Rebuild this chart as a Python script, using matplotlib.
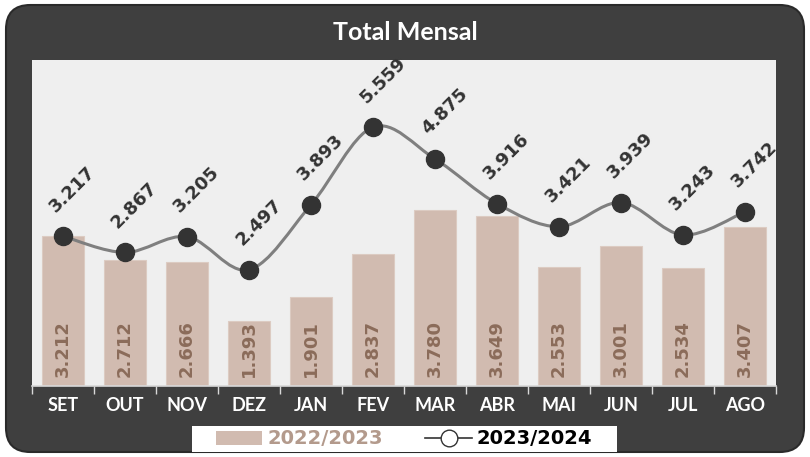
import matplotlib
matplotlib.use("Agg")
import matplotlib.pyplot as plt
import numpy as np
from matplotlib.patches import FancyBboxPatch, Rectangle, PathPatch
from matplotlib.path import Path
from matplotlib.lines import Line2D
from matplotlib.font_manager import FontProperties

months = ["SET", "OUT", "NOV", "DEZ", "JAN", "FEV", "MAR", "ABR", "MAI", "JUN", "JUL", "AGO"]
s2022 = [3212, 2712, 2666, 1393, 1901, 2837, 3780, 3649, 2553, 3001, 2534, 3407]
s2023 = [3217, 2867, 3205, 2497, 3893, 5559, 4875, 3916, 3421, 3939, 3243, 3742]
name_a = "2022/2023"
name_b = "2023/2024"
title = "Total Mensal"

def fmt(v):
    return f"{v:,}".replace(",", ".")

plt.rcParams['font.family'] = ['Lato', 'DejaVu Sans']
lab_font = ["DejaVu Sans"]

W, H = 810, 457
fig = plt.figure(figsize=(W/100, H/100), dpi=100)
fig.patch.set_facecolor("white")

dark = "#3f3f3f"
bg = FancyBboxPatch((6/W, 5/H), 798/W, 447/H, boxstyle="round,pad=0,rounding_size=0.03",
                    transform=fig.transFigure, facecolor=dark, edgecolor="#2a2a2a",
                    linewidth=1.5, zorder=-10, mutation_aspect=W/H)
fig.patches.append(bg)

fig.text(0.5, 1 - 33/H, title, color="white", fontsize=18, ha="center", va="center",
         fontweight="bold")

ax = fig.add_axes([32/W, 71/H, (776-32)/W, (386-60)/H])
ax.set_facecolor("#efefef")
x = np.arange(len(months))
bars = ax.bar(x, s2022, width=0.68, color="#d1bbb0", edgecolor="#dccbc2", linewidth=0.8, zorder=2)
for xi, v in zip(x, s2022):
    ax.text(xi, 200, fmt(v), rotation=90, ha="center", va="bottom", fontsize=13,
            fontweight="bold", color="#8b6c5a", zorder=3, family=lab_font)

# smooth line through points (Catmull-Rom -> cubic Bezier)
pts = np.column_stack([x, s2023]).astype(float)
verts = [pts[0]]
codes = [Path.MOVETO]
n = len(pts)
for i in range(n - 1):
    p0 = pts[i - 1] if i > 0 else pts[i]
    p1 = pts[i]
    p2 = pts[i + 1]
    p3 = pts[i + 2] if i + 2 < n else pts[i + 1]
    c1 = p1 + (p2 - p0) / 6
    c2 = p2 - (p3 - p1) / 6
    verts += [c1, c2, p2]
    codes += [Path.CURVE4] * 3
ax.add_patch(PathPatch(Path(verts, codes), facecolor="none", edgecolor="#7f7f7f", lw=2.2, zorder=4))
ax.plot(x, s2023, linestyle="none", marker="o", markersize=13, color="#333333", zorder=5)
for xi, v in zip(x, s2023):
    ax.annotate(fmt(v), (xi, v), xytext=(7, 34), textcoords="offset points", rotation=45,
                ha="center", va="center", fontsize=13, fontweight="bold", color="#333333",
                zorder=6, family=lab_font)

ax.set_xlim(-0.5, len(months) - 0.5)
ax.set_ylim(0, 7000)
ax.set_yticks([])
for s in ["top", "right", "left"]:
    ax.spines[s].set_visible(False)
ax.spines["bottom"].set_color("#d9d9d9")
ax.spines["bottom"].set_linewidth(1.2)
ax.set_xticks(x)
ax.set_xticklabels(months, color="white", fontsize=13, fontweight="bold")
ax.tick_params(axis="x", length=0, pad=8)
ax.set_xticks(np.arange(-0.5, len(months), 1), minor=True)
ax.tick_params(axis="x", which="minor", length=6, color="#d9d9d9", width=1)

# legend
fig.patches.append(Rectangle((192/W, 5/H), (617-192)/W, 26/H, transform=fig.transFigure,
                             facecolor="white", edgecolor="none", zorder=1))
h1 = Rectangle((0, 0), 1, 1, facecolor="#d1bbb0", edgecolor="none")
h2 = Line2D([], [], color="#333333", lw=1.2, marker="o", markersize=12,
            markerfacecolor="white", markeredgecolor="#333333")
leg = fig.legend([h1, h2], [name_a, name_b], loc="center", bbox_to_anchor=(404/W, 18/H),
                 ncol=2, frameon=False,
                 prop=FontProperties(family=["DejaVu Sans"], size=14, weight="bold"),
                 handlelength=2.4, handletextpad=0.25, columnspacing=2.2)
leg.set_zorder(2)
leg.get_texts()[0].set_color("#b39a8c")
leg.get_texts()[1].set_color("black")
for t in leg.get_texts():
    t.set_fontweight("bold")

fig.savefig("out.png", dpi=100, facecolor="white")
